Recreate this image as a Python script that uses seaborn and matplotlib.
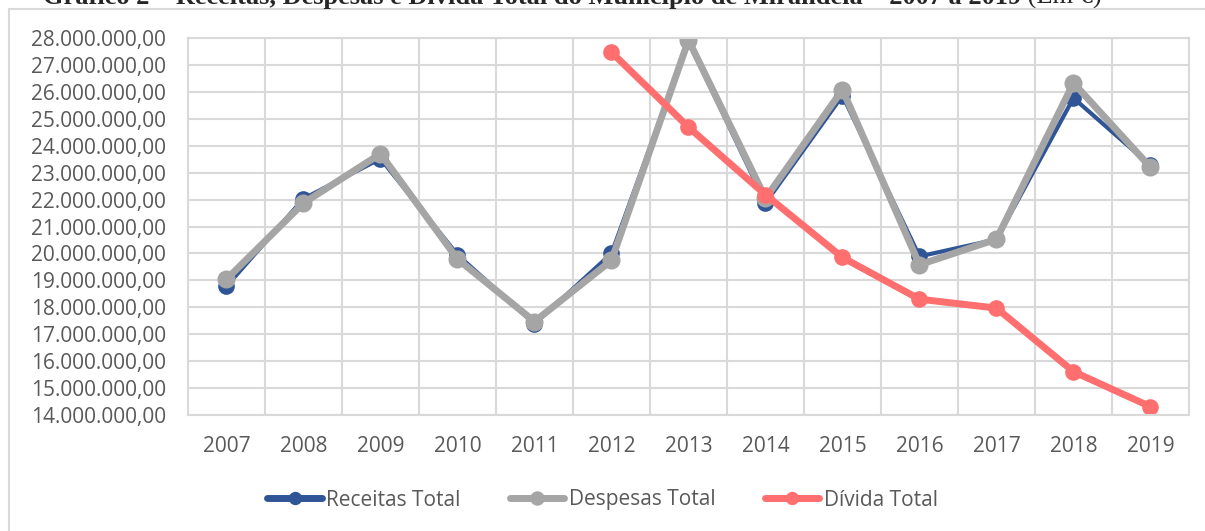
import numpy as np
import pandas as pd
import matplotlib
matplotlib.use("Agg")
import matplotlib.pyplot as plt
from matplotlib.patches import Rectangle
from matplotlib.ticker import FixedLocator, FuncFormatter
import seaborn as sns

anos = [2007, 2008, 2009, 2010, 2011, 2012, 2013, 2014, 2015, 2016, 2017, 2018, 2019]
receitas = [18.78, 22.03, 23.52, 19.95, 17.38, 20.00, 27.88, 21.87, 25.86, 19.89, 20.52, 25.77, 23.27]
despesas = [19.04, 21.87, 23.70, 19.79, 17.47, 19.74, 27.92, 22.05, 26.08, 19.58, 20.53, 26.33, 23.20]
divida = [np.nan, np.nan, np.nan, np.nan, np.nan, 27.47, 24.69, 22.18, 19.85, 18.30, 17.97, 15.61, 14.31]

df = pd.DataFrame({"ano": anos,
                   "Receitas Total": np.array(receitas) * 1e6,
                   "Despesas Total": np.array(despesas) * 1e6,
                   "Dívida Total": np.array(divida) * 1e6})

sns.set_theme(style="white")
plt.rcParams['font.family'] = ['Open Sans', 'DejaVu Sans']

fig = plt.figure(figsize=(12.05, 5.31), dpi=100)
ax = fig.add_axes([188/1205, 1-415/531, (1189-188)/1205, (415-38)/531])

# moldura do grafico (estilo Excel)
fig.patches.append(Rectangle((8.5/1205, -0.01), 1.2, 1-8.5/531+0.01, transform=fig.transFigure,
                             fill=False, edgecolor='#d9d9d9', linewidth=1.5))

estilos = [("Receitas Total", '#2f5597', 3, 12),
           ("Despesas Total", '#a5a5a5', 5, 13),
           ("Dívida Total", '#ff6f6f', 5, 12)]
for nome, cor, lw, ms in estilos:
    sns.lineplot(data=df, x="ano", y=nome, ax=ax, color=cor, linewidth=lw,
                 marker='o', markersize=ms, markeredgewidth=0, label=nome,
                 solid_capstyle='round')

ax.set_xlim(anos[0]-0.5, anos[-1]+0.5)
ax.set_ylim(14e6, 28e6)
ax.set_xticks(anos)
ax.xaxis.set_minor_locator(FixedLocator(np.arange(anos[0]-0.5, anos[-1]+1, 1)))
ax.set_yticks(np.arange(14e6, 28.1e6, 1e6))
ax.yaxis.set_major_formatter(FuncFormatter(
    lambda v, p: f"{v:,.2f}".replace(",", "X").replace(".", ",").replace("X", ".")))
ax.grid(True, axis='y', which='major', color='#d9d9d9', linewidth=1.5)
ax.grid(True, axis='x', which='minor', color='#d9d9d9', linewidth=1.5)
ax.set_axisbelow(True)
for s in ax.spines.values():
    s.set_color('#d9d9d9')
    s.set_linewidth(1.5)
ax.tick_params(axis='both', which='both', length=0, labelsize=15, colors='#595959')
ax.tick_params(axis='y', pad=16)
ax.tick_params(axis='x', pad=15)
ax.set_xlabel("")
ax.set_ylabel("")

leg = ax.legend(loc='center', ncol=3, frameon=False, fontsize=15, handlelength=2.6,
                handletextpad=0.2, columnspacing=2.4, labelcolor='#595959', markerscale=0.8)
leg.set_bbox_to_anchor((0.5, 1-500/531), transform=fig.transFigure)
for h in leg.get_lines():
    h.set_linewidth(5)

t1 = fig.text(43/1205, 1-4/531,
              "Gráfico 2 – Receitas, Despesas e Dívida Total do Município de Mirandela – 2007 a 2019",
              fontsize=19, fontweight='bold', family='Liberation Serif', va='baseline', ha='left')
ax.annotate(" (Em €)", xy=(1, 0), xycoords=t1, fontsize=19, family='Liberation Serif',
            va='bottom', ha='left', annotation_clip=False)

fig.savefig("out.png", dpi=100)
